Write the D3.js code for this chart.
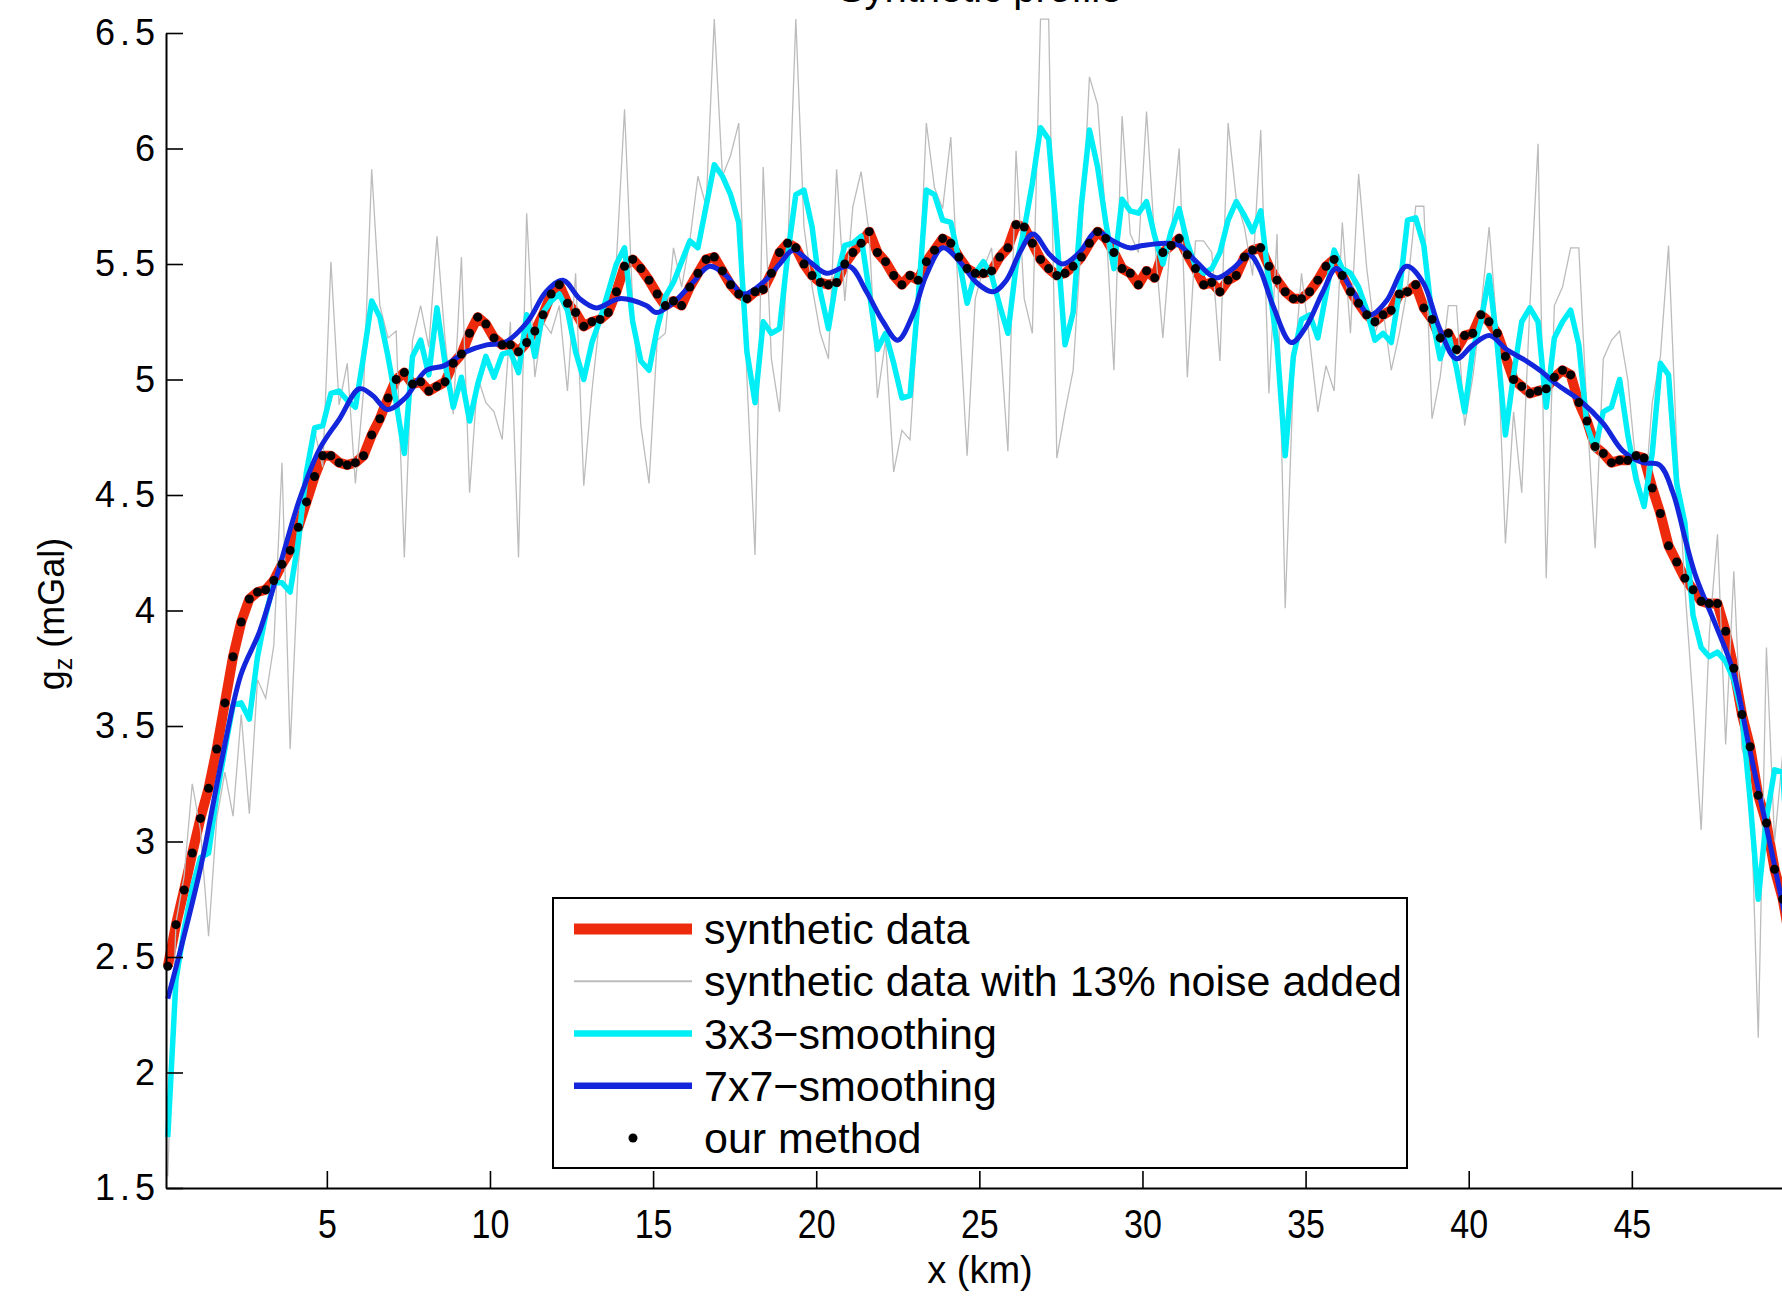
<!DOCTYPE html>
<html>
<head>
<meta charset="utf-8">
<script src="https://cdn.jsdelivr.net/npm/d3@7"></script>
<style>
  body { margin: 0; background: #fff; }
  svg { display: block; }
  text { font-family: "Liberation Sans", Arial, Helvetica, sans-serif; fill: #000; }
</style>
</head>
<body>
<svg id="chart" width="1782" height="1297"></svg>
<script>
"use strict";

// profile sampled every 0.25 km, starting at 0.125 km
var xStart = 0.125;
var xStep = 0.25;

var synthetic = [
    2.46, 2.64, 2.79, 2.95, 3.10, 3.23, 3.40, 3.60, 3.80, 3.95,
    4.05, 4.08, 4.09, 4.13, 4.20, 4.26, 4.36, 4.47, 4.58, 4.67,
    4.67, 4.64, 4.63, 4.64, 4.67, 4.76, 4.83, 4.92, 5.00, 5.03,
    4.98, 4.99, 4.95, 4.97, 4.99, 5.07, 5.11, 5.20, 5.27, 5.24,
    5.18, 5.15, 5.15, 5.12, 5.16, 5.21, 5.28, 5.37, 5.41, 5.33,
    5.29, 5.23, 5.25, 5.26, 5.29, 5.38, 5.49, 5.52, 5.48, 5.43,
    5.37, 5.32, 5.34, 5.32, 5.40, 5.46, 5.52, 5.53, 5.47, 5.41,
    5.37, 5.35, 5.38, 5.39, 5.46, 5.55, 5.59, 5.57, 5.50, 5.45,
    5.42, 5.41, 5.42, 5.50, 5.55, 5.59, 5.64, 5.55, 5.51, 5.45,
    5.41, 5.45, 5.43, 5.51, 5.56, 5.61, 5.59, 5.53, 5.48, 5.46,
    5.46, 5.47, 5.53, 5.57, 5.67, 5.66, 5.59, 5.52, 5.48, 5.45,
    5.46, 5.49, 5.53, 5.59, 5.64, 5.61, 5.55, 5.48, 5.46, 5.41,
    5.47, 5.44, 5.55, 5.58, 5.61, 5.54, 5.48, 5.41, 5.42, 5.38,
    5.43, 5.45, 5.53, 5.56, 5.57, 5.49, 5.43, 5.38, 5.35, 5.35,
    5.38, 5.43, 5.49, 5.52, 5.45, 5.38, 5.33, 5.28, 5.25, 5.28,
    5.30, 5.37, 5.38, 5.41, 5.31, 5.26, 5.18, 5.20, 5.13, 5.19,
    5.20, 5.28, 5.25, 5.20, 5.10, 5.00, 4.97, 4.94, 4.95, 4.96,
    5.01, 5.04, 5.02, 4.90, 4.82, 4.71, 4.68, 4.64, 4.65, 4.65,
    4.67, 4.66, 4.53, 4.42, 4.28, 4.21, 4.14, 4.09, 4.04, 4.03,
    4.03, 3.91, 3.75, 3.55, 3.41, 3.20, 3.08, 2.88, 2.75, 2.55
];

var noisy = [
    1.55, 2.65, 2.85, 3.25, 3.05, 2.59, 3.10, 3.30, 3.11, 3.55,
    3.12, 3.70, 3.62, 3.85, 4.64, 3.40, 4.20, 4.55, 4.78, 4.62,
    5.51, 4.89, 5.07, 4.55, 4.95, 5.91, 5.32, 5.18, 5.21, 4.23,
    5.17, 5.32, 5.14, 5.62, 5.17, 4.85, 5.53, 4.51, 5.01, 4.90,
    4.86, 4.74, 5.25, 4.23, 5.72, 5.01, 5.25, 5.20, 5.32, 4.95,
    5.46, 4.54, 4.95, 5.28, 5.40, 5.51, 6.17, 5.32, 4.80, 4.55,
    5.17, 5.20, 5.57, 5.40, 5.60, 5.88, 5.75, 6.56, 5.88, 5.97,
    6.11, 5.01, 4.24, 5.92, 5.09, 4.86, 5.55, 6.56, 5.66, 5.40,
    5.20, 5.09, 5.91, 5.34, 5.75, 5.90, 5.63, 4.92, 5.17, 4.60,
    4.78, 4.74, 5.29, 6.11, 5.83, 5.74, 6.05, 5.30, 4.67, 5.35,
    5.48, 5.57, 5.20, 4.69, 5.99, 5.35, 5.20, 6.56, 6.56, 4.66,
    4.86, 5.04, 5.60, 6.31, 6.19, 5.69, 5.04, 6.14, 5.63, 5.55,
    6.16, 5.60, 5.18, 5.63, 6.00, 5.01, 5.60, 5.60, 5.55, 5.08,
    6.11, 5.78, 5.66, 5.45, 6.08, 4.94, 5.63, 4.01, 5.01, 5.46,
    5.17, 4.86, 5.06, 4.95, 5.68, 5.20, 5.89, 5.48, 5.20, 5.30,
    5.04, 5.20, 5.40, 5.75, 5.75, 4.83, 5.01, 5.32, 5.32, 4.80,
    5.01, 5.30, 5.66, 5.20, 4.29, 4.86, 4.51, 5.32, 6.02, 4.14,
    5.32, 5.40, 5.57, 5.57, 4.86, 4.27, 5.09, 5.17, 5.21, 5.00,
    4.63, 4.45, 4.90, 5.10, 5.58, 4.71, 4.10, 3.60, 3.05, 3.90,
    4.33, 3.42, 4.17, 3.40, 3.30, 2.15, 3.84, 3.00, 3.38, 2.80
];

var smooth3 = [
    1.72, 2.40, 2.62, 2.80, 2.93, 2.95, 3.20, 3.40, 3.59, 3.60,
    3.53, 3.80, 3.98, 4.12, 4.12, 4.08, 4.30, 4.60, 4.79, 4.80,
    4.94, 4.95, 4.91, 4.88, 5.10, 5.34, 5.27, 5.10, 4.90, 4.68,
    5.10, 5.17, 5.02, 5.31, 5.07, 4.88, 5.01, 4.82, 4.98, 5.10,
    5.01, 5.11, 5.12, 5.03, 5.28, 5.10, 5.29, 5.34, 5.37, 5.30,
    5.12, 5.00, 5.16, 5.26, 5.38, 5.50, 5.57, 5.25, 5.08, 5.04,
    5.22, 5.36, 5.42, 5.51, 5.60, 5.57, 5.75, 5.93, 5.88, 5.80,
    5.68, 5.12, 4.90, 5.25, 5.20, 5.22, 5.54, 5.80, 5.82, 5.66,
    5.38, 5.22, 5.44, 5.58, 5.59, 5.62, 5.38, 5.13, 5.20, 5.07,
    4.92, 4.93, 5.35, 5.82, 5.80, 5.69, 5.68, 5.52, 5.33, 5.46,
    5.51, 5.45, 5.32, 5.20, 5.49, 5.65, 5.85, 6.09, 6.04, 5.62,
    5.15, 5.29, 5.75, 6.08, 5.92, 5.68, 5.48, 5.78, 5.73, 5.72,
    5.77, 5.62, 5.50, 5.64, 5.74, 5.59, 5.49, 5.46, 5.48, 5.55,
    5.69, 5.77, 5.71, 5.64, 5.73, 5.42, 5.15, 4.67, 5.10, 5.26,
    5.28, 5.18, 5.37, 5.56, 5.48, 5.46, 5.40, 5.30, 5.17, 5.20,
    5.16, 5.38, 5.69, 5.70, 5.58, 5.27, 5.09, 5.20, 5.05, 4.86,
    5.13, 5.25, 5.45, 5.15, 4.76, 5.02, 5.25, 5.31, 5.25, 4.88,
    5.18, 5.25, 5.30, 5.15, 4.80, 4.70, 4.86, 4.88, 5.00, 4.76,
    4.57, 4.45, 4.68, 5.07, 5.02, 4.55, 4.38, 3.98, 3.84, 3.80,
    3.82, 3.78, 3.70, 3.55, 3.18, 2.75, 3.10, 3.31, 3.30, 2.75
];

// 7x7 smoothing is a smooth curve, read at its turning points
var smooth7Km = [
    0.125, 0.55, 1.15, 1.76, 2.36, 2.94, 3.55, 4.16, 4.78, 5.39,
    6.0, 6.41, 6.85, 7.4, 8.05, 8.6, 9.27, 9.9, 10.45, 11.15,
    11.72, 12.24, 12.75, 13.26, 13.97, 14.79, 15.1, 15.6, 16.22, 16.73,
    17.24, 17.75, 18.37, 18.88, 19.29, 19.8, 20.31, 21.02, 21.54, 22.05,
    22.5, 22.96, 23.37, 23.88, 24.4, 24.91, 25.42, 25.83, 26.24, 26.64,
    27.16, 27.56, 28.07, 28.59, 29.1, 29.61, 30.0, 30.73, 31.14, 31.65,
    32.26, 32.77, 33.28, 33.59, 34.0, 34.56, 35.02, 35.53, 35.94, 36.45,
    36.97, 37.48, 38.09, 38.6, 39.11, 39.62, 40.13, 40.64, 41.16, 41.77,
    42.18, 42.69, 43.4, 44.12, 44.73, 45.34, 45.85, 46.26, 46.67, 46.98,
    47.59, 48.1, 48.61, 49.13, 49.53, 49.875
];
var smooth7 = [
    2.32, 2.55, 2.90, 3.34, 3.72, 3.91, 4.19, 4.48, 4.70, 4.83,
    4.96, 4.93, 4.87, 4.92, 5.04, 5.06, 5.12, 5.15, 5.16, 5.25,
    5.38, 5.43, 5.35, 5.31, 5.35, 5.32, 5.29, 5.33, 5.42, 5.49,
    5.45, 5.37, 5.42, 5.50, 5.56, 5.51, 5.46, 5.49, 5.38, 5.25,
    5.17, 5.28, 5.45, 5.57, 5.51, 5.42, 5.38, 5.43, 5.55, 5.63,
    5.54, 5.50, 5.55, 5.64, 5.60, 5.57, 5.58, 5.59, 5.58, 5.51,
    5.44, 5.48, 5.54, 5.48, 5.32, 5.16, 5.23, 5.38, 5.48, 5.38,
    5.28, 5.34, 5.49, 5.42, 5.22, 5.09, 5.15, 5.19, 5.13, 5.08,
    5.04, 4.98, 4.91, 4.81, 4.69, 4.64, 4.63, 4.51, 4.29, 4.14,
    3.93, 3.74, 3.40, 3.06, 2.79, 2.55
];

var xTicks = [5, 10, 15, 20, 25, 30, 35, 40, 45];
var yTicks = [1.5, 2, 2.5, 3, 3.5, 4, 4.5, 5, 5.5, 6, 6.5];

var legendLabels = [
    "synthetic data",
    "synthetic data with 13% noise added",
    "3x3\u2212smoothing",
    "7x7\u2212smoothing",
    "our method"
];

var colors = {
    synthetic: "#ee2a0c",
    noisy: "#bcbcbc",
    smooth3: "#00eef6",
    smooth7: "#1326dc",
    method: "#000"
};

var svg = d3.select("#chart");

var x = d3.scaleLinear().domain([0.07, 50]).range([166, 166 + 49.93 * 32.625]);
var y = d3.scaleLinear().domain([1.5, 6.5]).range([1188, 33]);

function kmAt(i) {
    return xStart + i * xStep;
}

var gridLine = d3.line()
    .x(function (d, i) { return x(kmAt(i)); })
    .y(function (d) { return y(d); });

var g = svg.append("g").attr("class", "plot");

// synthetic data (thick red)
g.append("path")
    .datum(synthetic)
    .attr("d", gridLine)
    .attr("fill", "none")
    .attr("stroke", colors.synthetic)
    .attr("stroke-width", 10)
    .attr("stroke-linejoin", "round");

// noisy data
g.append("path")
    .datum(noisy)
    .attr("d", gridLine)
    .attr("fill", "none")
    .attr("stroke", colors.noisy)
    .attr("stroke-width", 1.3);

// 3x3 smoothing
g.append("path")
    .datum(smooth3)
    .attr("d", gridLine)
    .attr("fill", "none")
    .attr("stroke", colors.smooth3)
    .attr("stroke-width", 5.5)
    .attr("stroke-linejoin", "round");

// 7x7 smoothing
g.append("path")
    .datum(d3.zip(smooth7Km, smooth7))
    .attr("d", d3.line()
        .x(function (d) { return x(d[0]); })
        .y(function (d) { return y(d[1]); })
        .curve(d3.curveCatmullRom.alpha(0.5)))
    .attr("fill", "none")
    .attr("stroke", colors.smooth7)
    .attr("stroke-width", 5);

// our method
g.selectAll("circle.method")
    .data(synthetic)
    .enter()
    .append("circle")
    .classed("method", true)
    .attr("cx", function (d, i) { return x(kmAt(i)); })
    .attr("cy", function (d) { return y(d); })
    .attr("r", 4.5)
    .attr("fill", colors.method);

// Axes
var xAxis = d3.axisBottom(x)
    .tickValues(xTicks)
    .tickSizeInner(-17)
    .tickSizeOuter(0)
    .tickPadding(22)
    .tickFormat(function (d) { return String(d); });

var yAxis = d3.axisLeft(y)
    .tickValues(yTicks)
    .tickSizeInner(-17)
    .tickSizeOuter(0)
    .tickPadding(6)
    .tickFormat(function (d) { return String(d); });

var gx = svg.append("g")
    .attr("transform", "translate(0," + y(1.5) + ")")
    .call(xAxis);

var gy = svg.append("g")
    .attr("transform", "translate(" + x(0.07) + ",0)")
    .call(yAxis);

[gx, gy].forEach(function (ax) {
    ax.select(".domain").attr("stroke", "#000").attr("stroke-width", 2);
    ax.selectAll(".tick line").attr("stroke", "#000").attr("stroke-width", 1.6);
    ax.selectAll(".tick text")
        .attr("font-family", "Liberation Sans, Arial, sans-serif")
        .attr("fill", "#000");
});
gy.selectAll(".tick text")
    .attr("font-size", 36)
    .attr("letter-spacing", 5);
gx.selectAll(".tick text")
    .attr("font-size", 40)
    .attr("transform", "scale(0.85,1)");

// Axis labels
svg.append("text")
    .attr("x", 980)
    .attr("y", 1283)
    .attr("text-anchor", "middle")
    .attr("font-size", 38)
    .text("x (km)");

var yl = svg.append("text")
    .attr("transform", "translate(64,614) rotate(-90)")
    .attr("text-anchor", "middle")
    .attr("font-size", 36);
yl.append("tspan").text("g");
yl.append("tspan").attr("font-size", 25).attr("dy", 8).text("z");
yl.append("tspan").attr("dy", -8).text(" (mGal)");

// title, mostly cut off by the top edge
svg.append("text")
    .attr("x", 980)
    .attr("y", 2)
    .attr("text-anchor", "middle")
    .attr("font-size", 40)
    .text("Synthetic profile");

// Legend
var lg = svg.append("g").attr("class", "legend");
lg.append("rect")
    .attr("x", 553)
    .attr("y", 898)
    .attr("width", 854)
    .attr("height", 270)
    .attr("fill", "#fff")
    .attr("stroke", "#000")
    .attr("stroke-width", 2);

var rowY = d3.scalePoint().domain(d3.range(legendLabels.length)).range([929, 1138]);
var legendStyle = [
    { color: colors.synthetic, width: 11 },
    { color: colors.noisy, width: 1.8 },
    { color: colors.smooth3, width: 6.5 },
    { color: colors.smooth7, width: 6.5 },
    null
];

var rows = lg.selectAll("g.row")
    .data(legendLabels)
    .enter()
    .append("g")
    .classed("row", true)
    .attr("transform", function (d, i) { return "translate(0," + rowY(i) + ")"; });

rows.each(function (d, i) {
    var row = d3.select(this);
    var st = legendStyle[i];
    if (st) {
        row.append("line")
            .attr("x1", 574).attr("x2", 692)
            .attr("stroke", st.color)
            .attr("stroke-width", st.width);
    } else {
        row.append("circle")
            .attr("cx", 633).attr("r", 4.5)
            .attr("fill", colors.method);
    }
    row.append("text")
        .attr("x", 704)
        .attr("dy", "0.35em")
        .attr("font-size", 43)
        .text(d);
});
</script>
</body>
</html>
